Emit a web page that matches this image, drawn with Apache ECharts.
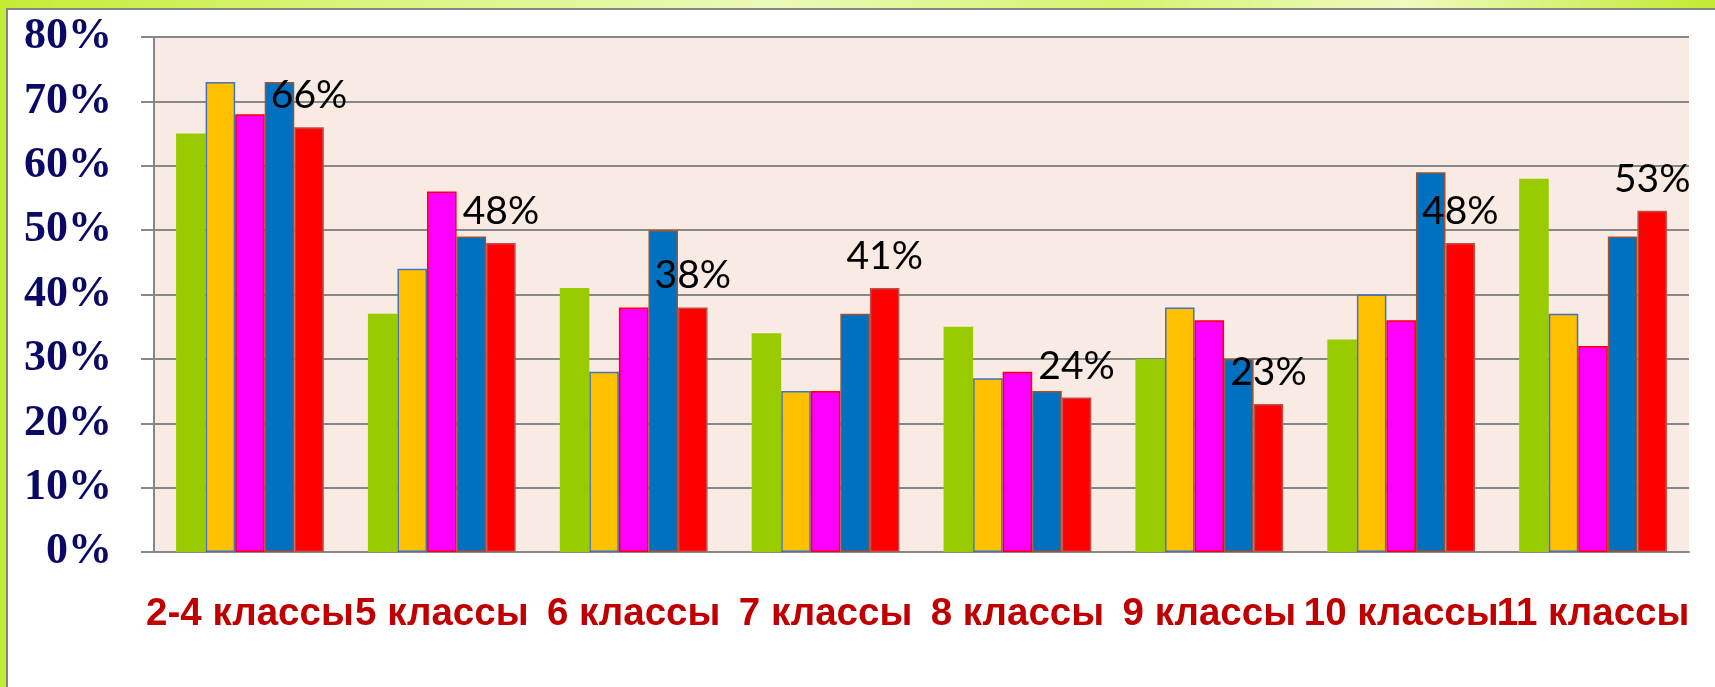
<!DOCTYPE html>
<html>
<head>
    <meta charset="UTF-8"/>
    <script type="text/javascript" src="https://cdn.jsdelivr.net/npm/echarts@6/dist/echarts.min.js"></script>
    <title>Классы</title>
    <style>
        html, body {margin: 0; padding: 0; width: 1715px; height: 687px; overflow: hidden;}
        body {
            background: linear-gradient(90deg, #c3ec34 0%, #d8f47a 20%, #eaf9b8 45%, #d6f36e 65%, #eefabf 82%, #c0ea30 100%);
            position: relative;
        }
        #panel {
            position: absolute; left: 6px; top: 8px; width: 1720px; height: 700px;
            background: #fff; border: 2px solid #858585; box-sizing: border-box;
        }
        #main {position: absolute; left: 0; top: 0; width: 1715px; height: 687px;}
    </style>
</head>
<body>
<div id="panel"></div>
<div id="main"></div>
<script type="text/javascript">
    // категории и значения (в процентах)
    var categories = ['2-4 классы', '5 классы', '6 классы', '7 классы', '8 классы', '9 классы', '10 классы', '11 классы']
    var greenVals = [65, 37, 41, 34, 35, 30, 33, 58]
    var orangeVals = [73, 44, 28, 25, 27, 38, 40, 37]
    var magentaVals = [68, 56, 38, 25, 28, 36, 36, 32]
    var blueVals = [73, 49, 50, 37, 25, 30, 59, 49]
    var redVals = [66, 48, 38, 41, 24, 23, 48, 53]
    var yTicks = [0, 10, 20, 30, 40, 50, 60, 70, 80]

    var myChart = echarts.init(document.getElementById('main'))

    function bar(name, data, color, border) {
        return {
            name: name,
            type: 'bar',
            data: data,
            barGap: '0%',
            barCategoryGap: '23%',
            itemStyle: {
                color: color,
                borderColor: border || color,
                borderWidth: border ? 1.5 : 0
            }
        }
    }

    var redSeries = bar('Ряд 5', redVals, '#FF0000', '#C0504D')
    redSeries.label = {
        show: true,
        position: 'top',
        distance: 12,
        formatter: '{c}%',
        fontFamily: 'Lato',
        fontSize: 39,
        color: '#000'
    }

    var option = {
        animation: false,
        grid: {
            left: 154, right: 26, top: 37, bottom: 135,
            show: true, backgroundColor: '#F9EAE4', borderWidth: 0
        },
        xAxis: {
            type: 'category',
            data: categories,
            axisLine: {lineStyle: {color: '#878787', width: 2}},
            axisTick: {length: 12, lineStyle: {color: '#878787', width: 2}},
            axisLabel: {
                interval: 0,
                margin: 43,
                fontFamily: 'Liberation Sans',
                fontWeight: 'bold',
                fontSize: 38.5,
                color: '#C00000'
            }
        },
        yAxis: {
            type: 'value',
            min: yTicks[0],
            max: yTicks[yTicks.length - 1],
            interval: 10,
            axisLine: {show: true, lineStyle: {color: '#878787', width: 2}},
            axisTick: {show: true, length: 13, lineStyle: {color: '#878787', width: 2}},
            splitLine: {lineStyle: {color: '#878787', width: 2}},
            axisLabel: {
                formatter: '{value}%',
                margin: 42,
                fontFamily: 'Liberation Serif',
                fontWeight: 'bold',
                fontSize: 44,
                color: '#0A0A66'
            }
        },
        series: [
            bar('Ряд 1', greenVals, '#99CC00'),
            bar('Ряд 2', orangeVals, '#FFC000', '#4472C4'),
            bar('Ряд 3', magentaVals, '#FF00FF', '#FF0000'),
            bar('Ряд 4', blueVals, '#0070C0', '#A0522D'),
            redSeries
        ]
    }
    myChart.setOption(option)
</script>
</body>
</html>
